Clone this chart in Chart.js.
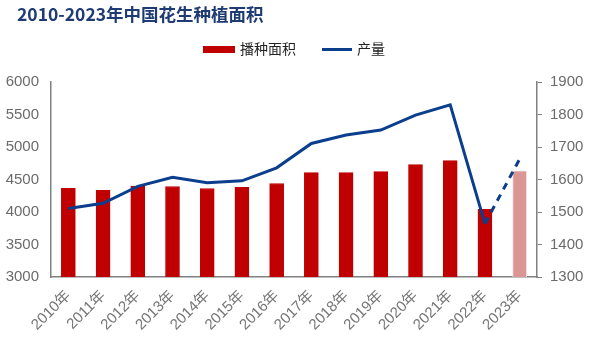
<!DOCTYPE html>
<html>
<head>
<meta charset="utf-8">
<script src="https://cdn.jsdelivr.net/npm/chart.js@4/dist/chart.umd.min.js"></script>
<style>
html,body{margin:0;padding:0;background:#fff;}
#wrap{width:595px;height:342px;position:relative;}
</style>
</head>
<body>
<div id="wrap"><canvas id="c" width="595" height="342"></canvas></div>
<script>
const titleText = '2010-2023年中国花生种植面积';
const years = ['2010年','2011年','2012年','2013年','2014年','2015年','2016年','2017年','2018年','2019年','2020年','2021年','2022年','2023年'];
const plantingArea = [4365,4332,4400,4393,4362,4378,4439,4607,4607,4622,4730,4791,4041,4633];
const production = [1511,1527,1579,1607,1590,1596,1636,1711,1737,1752,1798,1830,1464,1663];
const leftTicks = [3000,6000,500];
const rightTicks = [1300,1900,100];

const barColors = plantingArea.map((v,i)=> i===plantingArea.length-1 ? '#D99694' : '#C00000');
const barBorders = plantingArea.map((v,i)=> i===plantingArea.length-1 ? '#F2DCDB' : '#C00000');
const lastIdx = production.length-1;

const CJK = '"Noto Sans CJK SC", "Noto Sans", sans-serif';

const headerPlugin = {
  id:'header',
  afterDraw(chart){
    const ctx = chart.ctx;
    ctx.save();
    ctx.fillStyle = '#1F3B73';
    ctx.font = 'bold 17.5px ' + CJK;
    ctx.textBaseline = 'middle';
    ctx.textAlign = 'left';
    ctx.fillText(titleText, 17, 14);
    const ds = chart.data.datasets;
    ctx.font = '14px ' + CJK;
    ctx.fillStyle = '#C00000';
    ctx.fillRect(203, 46, 32, 7);
    ctx.fillStyle = '#222';
    ctx.fillText(ds[0].label, 240, 49);
    ctx.strokeStyle = '#0B3F8E';
    ctx.lineWidth = 3;
    ctx.beginPath();
    ctx.moveTo(322, 49.5);
    ctx.lineTo(352, 49.5);
    ctx.stroke();
    ctx.fillStyle = '#222';
    ctx.fillText(ds[1].label, 357, 49);
    ctx.restore();
  }
};

new Chart(document.getElementById('c'), {
  data: {
    labels: years,
    datasets: [
      {
        type:'bar', label:'播种面积', data: plantingArea, yAxisID:'y',
        backgroundColor: barColors, borderColor: barBorders, borderWidth: 1,
        barThickness: 14, order: 2
      },
      {
        type:'line', label:'产量', data: production, yAxisID:'y1',
        borderColor:'#0B3F8E', borderWidth:3, pointRadius:0, tension:0,
        fill:false, order: 1,
        segment: { borderDash: ctx => ctx.p1DataIndex === lastIdx ? [7,6] : undefined }
      }
    ]
  },
  options: {
    responsive:false,
    animation:false,
    devicePixelRatio:1,
    layout:{ padding:{ top:82, right:0, bottom:0, left:0 } },
    plugins:{ legend:{display:false}, title:{display:false}, tooltip:{enabled:false} },
    scales:{
      x:{
        offset:true,
        grid:{display:false},
        border:{color:'#808080', width:1.5},
        ticks:{ color:'#767676', font:{size:15, family:'"Liberation Sans", Arial, ' + CJK}, minRotation:45, maxRotation:45, padding:2, autoSkip:false },
        afterFit(s){ s.height = 65; }
      },
      y:{
        position:'left', min:leftTicks[0], max:leftTicks[1],
        grid:{display:false},
        border:{color:'#808080', width:1.5},
        ticks:{ stepSize:leftTicks[2], color:'#6B6B6B', font:{size:15, family:'"Liberation Sans", Arial, sans-serif'}, padding:4, callback:v=>String(v) },
        afterFit(s){ s.width = 51; }
      },
      y1:{
        position:'right', min:rightTicks[0], max:rightTicks[1],
        grid:{display:true, drawOnChartArea:false, tickLength:5, color:'#808080'},
        border:{color:'#808080', width:1.5},
        ticks:{ stepSize:rightTicks[2], color:'#6B6B6B', font:{size:15, family:'"Liberation Sans", Arial, sans-serif'}, padding:8, callback:v=>String(v) },
        afterFit(s){ s.width = 58; }
      }
    }
  },
  plugins:[headerPlugin]
});
</script>
</body>
</html>
